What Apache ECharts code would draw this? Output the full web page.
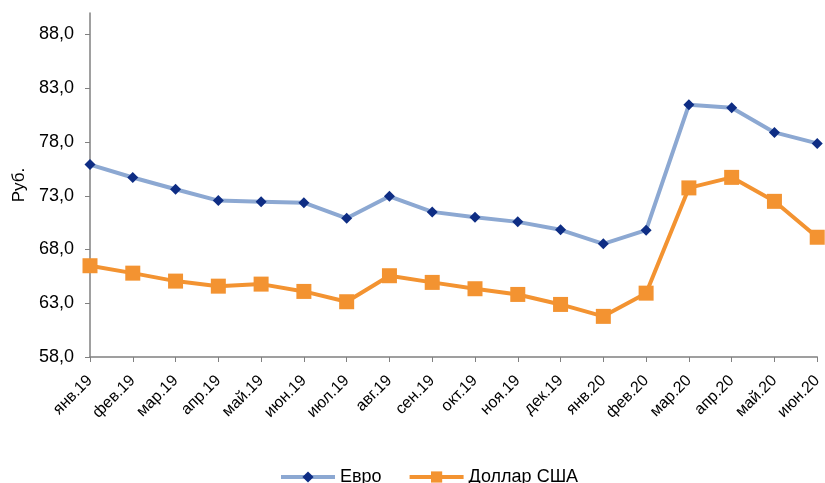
<!DOCTYPE html>
<html>
<head>
<meta charset="utf-8">
<script src="https://cdn.jsdelivr.net/npm/echarts@6/dist/echarts.min.js"></script>
<style>
  html, body { margin: 0; padding: 0; background: #fff; }
  #chart { width: 825px; height: 483px; }
</style>
</head>
<body>
<div id="chart"></div>
<script>
// месяцы
var months = ['янв.19', 'фев.19', 'мар.19', 'апр.19', 'май.19', 'июн.19', 'июл.19', 'авг.19', 'сен.19',
  'окт.19', 'ноя.19', 'дек.19', 'янв.20', 'фев.20', 'мар.20', 'апр.20', 'май.20', 'июн.20'];
// курсы, руб.
var euro = [75.9, 74.7, 73.6, 72.55, 72.45, 72.35, 70.9, 72.95, 71.5, 71.0, 70.57, 69.83, 68.53, 69.8, 81.46, 81.18, 78.89, 77.87];
var usd = [66.49, 65.8, 65.06, 64.59, 64.78, 64.1, 63.14, 65.56, 64.94, 64.35, 63.82, 62.89, 61.78, 63.94, 73.73, 74.71, 72.48, 69.14];
// подписи оси Y
var yTicks = [58, 63, 68, 73, 78, 83, 88];

var chart = echarts.init(document.getElementById('chart'));
var font = 'Liberation Sans, Arial, sans-serif';

var option = {
  animation: false,
  textStyle: { fontFamily: font },
  grid: { left: 90, right: 6, top: 13, bottom: 126 },
  legend: {
    left: 274,
    top: 463,
    itemWidth: 54,
    itemHeight: 14,
    itemGap: 26,
    lineStyle: { width: 4 },
    textStyle: { fontSize: 18, color: '#000', fontFamily: font },
    data: ['Евро', 'Доллар США']
  },
  xAxis: {
    type: 'category',
    data: months,
    boundaryGap: false,
    axisLine: { lineStyle: { color: '#808080', width: 1.5 } },
    axisTick: { alignWithLabel: true, length: 5, lineStyle: { color: '#808080' } },
    axisLabel: { rotate: 45, fontSize: 16, color: '#000', margin: 21, interval: 0 }
  },
  yAxis: {
    type: 'value',
    min: 58,
    max: 90,
    name: 'Руб.',
    nameLocation: 'middle',
    nameRotate: 90,
    nameGap: 60,
    nameTextStyle: { fontSize: 17, color: '#000' },
    splitLine: { show: false },
    axisLine: { show: true, lineStyle: { color: '#808080', width: 1.5 } },
    axisTick: { show: true, length: 5, customValues: yTicks, lineStyle: { color: '#808080' } },
    axisLabel: {
      customValues: yTicks,
      fontSize: 18,
      color: '#000',
      margin: 16,
      formatter: function (v) { return v.toFixed(1).replace('.', ','); }
    }
  },
  series: [
    {
      name: 'Евро',
      type: 'line',
      data: euro,
      symbol: 'diamond',
      symbolSize: 11,
      lineStyle: { color: '#8CA8D2', width: 4 },
      itemStyle: { color: '#0E2D84' }
    },
    {
      name: 'Доллар США',
      type: 'line',
      data: usd,
      symbol: 'rect',
      symbolSize: 15,
      lineStyle: { color: '#F39331', width: 4 },
      itemStyle: { color: '#F39331' }
    }
  ]
};

chart.setOption(option);
</script>
</body>
</html>
